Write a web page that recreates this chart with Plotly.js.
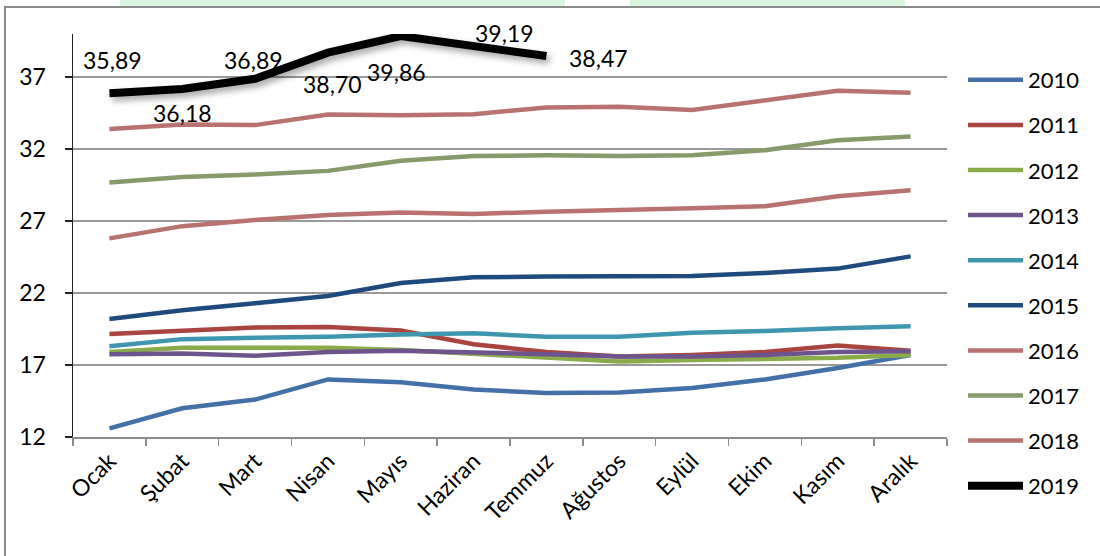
<!DOCTYPE html>
<html>
<head>
<meta charset="utf-8">
<script src="https://cdn.plot.ly/plotly-3.0.1.min.js"></script>
<style>
  html, body { margin: 0; padding: 0; background: #fff; }
  #chart { width: 1100px; height: 556px; }
</style>
</head>
<body>
<div id="chart"></div>
<script>
const months = ["Ocak", "Şubat", "Mart", "Nisan", "Mayıs", "Haziran", "Temmuz", "Ağustos", "Eylül", "Ekim", "Kasım", "Aralık"];

const y2010 = [12.6, 14.0, 14.6, 16.0, 15.8, 15.3, 15.05, 15.1, 15.4, 16.0, 16.8, 17.7];
const y2011 = [19.15, 19.4, 19.6, 19.65, 19.4, 18.45, 17.9, 17.6, 17.7, 17.9, 18.35, 18.0];
const y2012 = [17.9, 18.2, 18.2, 18.2, 18.05, 17.8, 17.55, 17.25, 17.35, 17.4, 17.5, 17.7];
const y2013 = [17.75, 17.8, 17.65, 17.9, 18.0, 17.9, 17.75, 17.6, 17.6, 17.7, 17.9, 17.95];
const y2014 = [18.3, 18.8, 18.9, 18.97, 19.13, 19.2, 18.97, 18.97, 19.25, 19.36, 19.55, 19.7];
const y2015 = [20.2, 20.8, 21.3, 21.8, 22.7, 23.1, 23.15, 23.18, 23.18, 23.4, 23.7, 24.55];
const y2016 = [25.8, 26.65, 27.07, 27.42, 27.6, 27.5, 27.65, 27.75, 27.9, 28.03, 28.72, 29.15];
const y2017 = [29.68, 30.07, 30.24, 30.49, 31.2, 31.52, 31.57, 31.53, 31.57, 31.93, 32.62, 32.87];
const y2018 = [33.4, 33.72, 33.67, 34.4, 34.36, 34.43, 34.9, 34.94, 34.72, 35.35, 36.05, 35.92];
const y2019 = [35.89, 36.18, 36.89, 38.70, 39.86, 39.19, 38.47];

const seriesNames = ["2010", "2011", "2012", "2013", "2014", "2015", "2016", "2017", "2018", "2019"];
const seriesValues = [y2010, y2011, y2012, y2013, y2014, y2015, y2016, y2017, y2018, y2019];
const seriesColors = ["#4470A8", "#A9443F", "#8AAB4A", "#6E548D", "#3F97AF", "#1E4A7E", "#B87370", "#879A69", "#B87370", "#000000"];
const seriesWidths = [4.5, 4.5, 4.5, 4.5, 4.5, 4.5, 4.5, 4.5, 4.5, 8];

const yTicks = [12, 17, 22, 27, 32, 37];

// label offsets for 2019 data labels (pixels)
const labelShiftX = [3, 0, -2, 5, -4, 31, 52];
const labelShiftY = [33, -24, 19, -31, -36, 13, -2];

const FONT = "Lato, 'Noto Sans', sans-serif";
const FS = 23;

const traces = seriesNames.map((name, i) => ({
  type: "scatter",
  mode: "lines",
  name: name,
  legendgroup: name,
  x: months.slice(0, seriesValues[i].length),
  y: seriesValues[i],
  line: { color: seriesColors[i], width: seriesWidths[i], shape: "linear" },
  hoverinfo: "skip"
}));

const annotations = y2019.map((v, i) => ({
  x: months[i],
  y: v,
  xref: "x",
  yref: "y",
  text: v.toFixed(2).replace(".", ","),
  showarrow: false,
  xshift: labelShiftX[i],
  yshift: labelShiftY[i],
  font: { family: FONT, size: FS, color: "#000" }
}));

const layout = {
  width: 1100,
  height: 556,
  margin: { l: 73, r: 153, t: 34, b: 119, autoexpand: false },
  paper_bgcolor: "#ffffff",
  plot_bgcolor: "#ffffff",
  font: { family: FONT, size: FS, color: "#000" },
  showlegend: true,
  legend: {
    xref: "container", yref: "container",
    x: 963 / 1100, xanchor: "left",
    y: (556 - 59) / 556, yanchor: "top",
    traceorder: "grouped",
    tracegroupgap: 13.5,
    itemwidth: 55,
    maxheight: 540,
    font: { family: FONT, size: 22, color: "#000" },
    bgcolor: "rgba(0,0,0,0)"
  },
  xaxis: {
    type: "category",
    categoryorder: "array",
    categoryarray: months,
    range: [-0.5, 11.5],
    tickangle: -45,
    tickson: "boundaries",
    ticks: "outside",
    ticklen: 7,
    tickcolor: "#8c8c8c",
    tickwidth: 1.5,
    showline: true,
    linecolor: "#8c8c8c",
    linewidth: 1.5,
    showgrid: false,
    zeroline: false,
    automargin: false,
    tickfont: { family: FONT, size: FS, color: "#000" },
    fixedrange: true
  },
  yaxis: {
    range: [12, 40],
    tickvals: yTicks,
    ticktext: yTicks.map(String),
    ticks: "outside",
    ticklen: 7,
    tickcolor: "#222",
    tickwidth: 1.5,
    ticklabelstandoff: 14,
    showline: true,
    linecolor: "#222",
    linewidth: 1.5,
    showgrid: true,
    gridcolor: "#999999",
    gridwidth: 1.5,
    zeroline: false,
    automargin: false,
    tickfont: { family: FONT, size: FS, color: "#000" },
    fixedrange: true
  },
  annotations: annotations,
  shapes: [
    { type: "rect", xref: "paper", yref: "paper", layer: "below",
      x0: (120 - 73) / 874, x1: (565 - 73) / 874, y0: (437 - 6) / 403, y1: (437 + 5) / 403,
      fillcolor: "#D8F5E0", line: { width: 0 } },
    { type: "rect", xref: "paper", yref: "paper", layer: "below",
      x0: (630 - 73) / 874, x1: (905 - 73) / 874, y0: (437 - 6) / 403, y1: (437 + 5) / 403,
      fillcolor: "#D8F5E0", line: { width: 0 } },
    { type: "rect", xref: "paper", yref: "paper", layer: "below",
      x0: (5 - 73) / 874, x1: (1110 - 73) / 874, y0: (437 - 570) / 403, y1: (437 - 7) / 403,
      fillcolor: "rgba(0,0,0,0)", line: { color: "#8a8a8a", width: 2 } }
  ]
};

Plotly.newPlot("chart", traces, layout, { displayModeBar: false, staticPlot: true }).then(gd => {
  const lines = gd.querySelectorAll(".scatterlayer .trace");
  const last = lines[lines.length - 1];
  if (last) {
    last.querySelectorAll("path.js-line").forEach(p => {
      p.style.filter = "drop-shadow(3px 4px 3px rgba(0,0,0,0.35))";
    });
  }
});
</script>
</body>
</html>
